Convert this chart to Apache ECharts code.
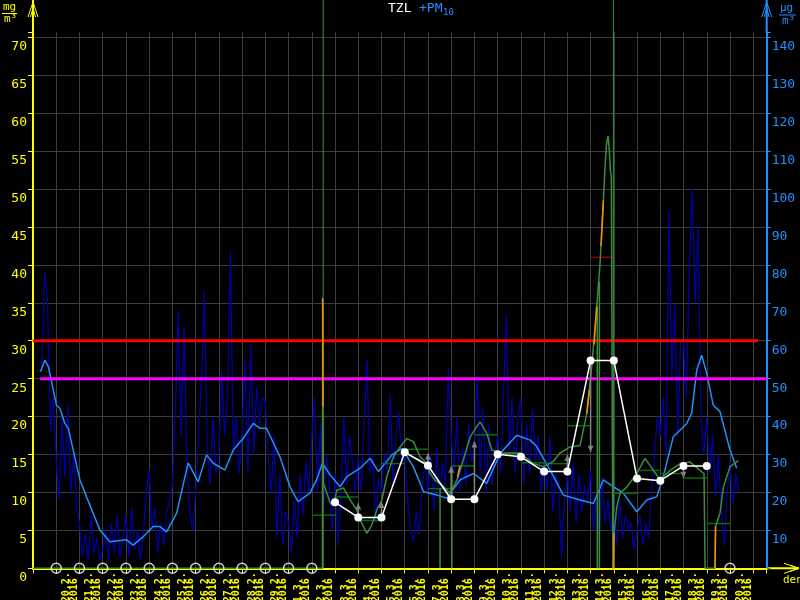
<!DOCTYPE html>
<html><head><meta charset="utf-8">
<script src="https://cdn.jsdelivr.net/npm/echarts@6/dist/echarts.min.js"></script>
<style>html,body{margin:0;padding:0;background:#000;}#c{width:800px;height:600px;}</style>
</head><body><div id="c"></div>
<script>
// ---------- data ----------
const dayLabels = ['20.2.','21.2.','22.2.','23.2.','24.2.','25.2.','26.2.','27.2.','28.2.','29.2.',
  '1.3.','2.3.','3.3.','4.3.','5.3.','6.3.','7.3.','8.3.','9.3.','10.3.','11.3.','12.3.','13.3.',
  '14.3.','15.3.','16.3.','17.3.','18.3.','19.3.','20.3.'];
const yearLabel = '2016';
const leftTicks = [0,5,10,15,20,25,30,35,40,45,50,55,60,65,70];
const rightTicks = [10,20,30,40,50,60,70,80,90,100,110,120,130,140];

// PM10 3-hourly values (µg/m3), first sample at day -0.625, step 1/8 day
const pmHourStart = -0.625;
const pmHourStep = 0.125;
const pmHourly = [52,78,70,36,45,
 28,18,40,24,43,20,30,16,   12,3,9,2,14,4,8,2,      5,10,2,12,4,14,3,8,     14,3,16,5,10,2,9,20,
 26,10,16,4,12,6,14,18,     22,40,68,35,64,28,15,10, 20,35,50,73,30,22,40,25, 30,52,35,45,84,30,40,25,
 35,55,25,59,30,48,38,45,   44,30,20,35,8,25,6,15,   12,4,18,8,25,14,28,20,   35,45,20,38,15,30,22,10,
 25,6,18,40,22,35,28,20,    30,20,38,55,25,30,12,24, 20,30,25,46,22,35,41,28, 30,18,10,7,15,9,22,28,
 20,30,15,32,18,28,22,53,   35,25,40,20,32,22,38,28, 30,51,25,42,20,38,22,30, 35,25,45,67,30,45,25,40,
 45,22,38,25,42,28,35,20,   30,20,35,15,25,22,3,18,  25,15,28,12,25,15,22,18, 26,10,20,8,24,12,18,10,
 15,6,18,8,14,10,12,5,      10,14,6,12,8,20,30,40,   35,45,30,94,50,70,35,60, 60,45,80,100,70,90,40,30,
 40,25,35,19,30,15,6,20,    28,17,25,20];

// PM10 moving average (µg/m3)
const pmAvgDays = [-0.68,-0.49,-0.34,0.01,0.16,0.37,0.52,1.02,1.30,1.88,2.31,3.03,3.31,3.74,4.17,4.46,4.75,
 5.18,5.68,6.11,6.47,6.76,7.26,7.62,8.05,8.48,8.77,9.05,9.63,10.06,10.41,10.92,11.20,11.46,11.79,12.22,
 12.51,13.08,13.51,13.87,14.45,14.88,15.37,15.81,16.38,16.81,17.38,17.96,18.53,19.11,19.82,20.40,20.68,
 21.26,21.83,22.55,23.12,23.55,23.98,24.41,24.99,25.42,25.85,26.13,26.56,27.14,27.35,27.57,27.78,28.00,
 28.28,28.57,29.00,29.29];
const pmAvgValues = [51.8,54.9,53.2,43.0,42.2,38.2,36.9,23.3,18.9,10.1,7.0,7.5,6.1,8.3,11.0,11.0,9.6,
 14.5,27.8,22.8,29.9,27.7,25.9,31.2,34.3,38.2,36.9,36.9,29.4,21.5,17.6,19.8,23.3,27.7,24.6,21.5,
 24.2,26.4,29.0,25.5,29.9,31.6,26.8,20.2,19.3,18.5,23.3,25.0,22.4,30.3,35.1,33.8,32.1,
 25.9,19.3,18.0,17.1,23.3,21.5,19.8,14.9,18.0,18.9,24.2,34.7,38.2,40.9,52.3,56.2,51.4,
 43.0,41.3,31.2,26.4];

// PM10 daily means (µg/m3)
const pmDailyDays = [12,13,14,15,16,17,18,19,20,21,22,23,24,25,26,27,28];
const pmDailyValues = [17.4,13.4,13.4,30.6,27.1,18.2,18.2,30.1,29.4,25.5,25.5,54.8,54.8,23.7,23.1,27.0,27.0];
const pmMissingDays = [0,1,2,3,4,5,6,7,8,9,10,11,29];
// trend arrows: day, from, to (µg/m3)
const pmArrows = [[13,13.4,17.1],[14,13.4,17.5],[16,27.1,30.3],[17,18.2,26.8],[18,18.2,33.4],
 [22,25.5,29.9],[23,54.8,30.7],[27,27.0,23.9]];

// TZL (mg/m3)
const tzlDays = [-1,11.459,11.467,11.484,11.502,11.79,11.932,12.078,12.362,12.651,12.939,13.081,13.369,
 13.584,13.799,14.015,14.23,14.514,14.802,15.09,15.374,15.663,15.951,16.093,16.308,16.665,16.954,
 17.242,17.526,17.814,18.102,18.244,18.533,18.748,19.105,19.535,19.966,20.254,20.538,20.968,21.399,
 21.687,22.117,22.547,22.835,23.05,23.265,23.408,23.55,23.623,23.688,23.752,23.808,23.851,23.894,
 23.959,23.989,24.01,24.127,24.269,24.557,24.987,25.344,25.701,25.99,26.42,26.85,27.281,27.711,
 27.883,27.926,28.356,28.378,28.571,28.714,29.002,29.359];
const tzlValues = [0,0,35.6,21.3,11.2,8.6,8.3,10.3,10.6,9.0,7.7,6.4,4.6,
 5.7,7.7,9.0,12.1,14.7,16.0,17.1,16.7,14.7,13.8,12.5,11.6,10.8,9.9,
 11.6,14.3,17.3,18.7,19.3,17.8,15.6,15.2,15.2,15.2,14.5,13.8,13.4,14.1,
 15.2,16.0,16.2,20.4,26.6,34.5,40.2,48.5,53.0,56.0,57.0,55.0,52.5,51.6,
 0,0,4.6,8.1,9.9,10.7,12.5,14.5,12.9,11.7,12.9,13.8,14.0,12.9,
 12.5,0,0,5.5,7.3,10.7,13.4,14.2];
const tzlDailyDays = [11,12,13,14,15,16,17,18,19,20,21,22,23,24,25,26,27,28];
const tzlDailyValues = [7.0,9.4,6.3,13.8,15.7,10.5,13.5,17.6,15.1,13.9,13.8,18.8,41.0,9.9,12.9,12.5,11.9,5.9];
const tzlGapLines = [[16.52,10.5],[17.03,13.4],[23.29,34.5],[23.38,37.8]];
const tzlOrange = [[[11.467,35.6],[11.484,21.3]],[[17.27,12.0],[17.38,13.5]],[[22.835,20.4],[22.95,23.5]],
 [[23.15,29.5],[23.265,34.5]],[[23.45,42.5],[23.55,48.5]],[[23.989,0],[24.01,4.6]],[[28.356,0],[28.378,5.5]]];
const markerDays = [11.49, 23.98];
const limitRed = 30;      // mg/m3 (left axis)
const limitMagenta = 25;  // mg/m3 (left axis)

// ---------- chart ----------
const YEL = '#ffff00', BLUE = '#1e90ff', GRID = '#3c3c3c';
const FONT = 'DejaVu Sans Mono';
const chart = echarts.init(document.getElementById('c'), null, {renderer: 'canvas'});

const hourlyData = pmHourly.map((v, i) => [pmHourStart + i * pmHourStep, v]);
const avgData = pmAvgDays.map((d, i) => [d, pmAvgValues[i]]);
const dailyData = pmDailyDays.map((d, i) => [d, pmDailyValues[i]]);
const tzlData = tzlDays.map((d, i) => [d, tzlValues[i]]);
const tzlDailyData = tzlDailyDays.map((d, i) => ({value: [d, tzlDailyValues[i]],
  itemStyle: {color: tzlDailyValues[i] > 30 ? '#8b0000' : '#0a6a0a'}}));

const series = [
  {type: 'line', name: 'pmHourly', xAxisIndex: 0, yAxisIndex: 1, data: hourlyData, showSymbol: false,
   lineStyle: {color: '#0000a8', width: 1.2}, z: 1, silent: true},
  {type: 'line', name: 'pmAvg', xAxisIndex: 0, yAxisIndex: 1, data: avgData, showSymbol: false,
   lineStyle: {color: BLUE, width: 1.5}, z: 2, silent: true},
  {type: 'line', xAxisIndex: 0, yAxisIndex: 0, data: [[-1, limitRed], [30.2, limitRed]], showSymbol: false,
   lineStyle: {color: '#ff0000', width: 3}, z: 3, silent: true},
  {type: 'line', xAxisIndex: 0, yAxisIndex: 0, data: [[-0.69, limitMagenta], [30.58, limitMagenta]], showSymbol: false,
   lineStyle: {color: '#ff00ff', width: 3}, z: 3, silent: true},
  {type: 'custom', xAxisIndex: 0, yAxisIndex: 0, data: tzlDailyData, z: 4, silent: true,
   renderItem: (p, api) => {
     const a = api.coord([api.value(0), api.value(1)]);
     const b = api.coord([api.value(0) + 1, api.value(1)]);
     return {type: 'line', shape: {x1: a[0], y1: a[1], x2: b[0], y2: b[1]},
       style: {stroke: api.visual('color'), lineWidth: 1.5}};
   }},
  {type: 'custom', xAxisIndex: 0, yAxisIndex: 0, data: tzlGapLines, z: 4, silent: true,
   renderItem: (p, api) => {
     const a = api.coord([api.value(0), 0]);
     const b = api.coord([api.value(0), api.value(1)]);
     return {type: 'line', shape: {x1: a[0], y1: a[1], x2: b[0], y2: b[1]},
       style: {stroke: '#3c8c3c', lineWidth: 1.5}};
   }},
  {type: 'custom', xAxisIndex: 0, yAxisIndex: 0, data: markerDays.map(d => [d, 0]), z: 4, silent: true,
   renderItem: (p, api) => {
     const a = api.coord([api.value(0), 0]);
     return {type: 'line', shape: {x1: a[0], y1: p.coordSys.y + p.coordSys.height, x2: a[0], y2: 0},
       style: {stroke: '#3a9a3a', lineWidth: 1}};
   }},
  {type: 'line', name: 'tzl', xAxisIndex: 0, yAxisIndex: 0, data: tzlData, showSymbol: false,
   lineStyle: {color: '#3c8c3c', width: 1.5}, z: 5, silent: true},
];
tzlOrange.forEach(seg => series.push({type: 'line', xAxisIndex: 0, yAxisIndex: 0, data: seg, showSymbol: false,
  lineStyle: {color: '#ff8c00', width: 1.5}, z: 6, silent: true}));
series.push(
  {type: 'custom', xAxisIndex: 0, yAxisIndex: 1, data: pmArrows, z: 7, silent: true,
   renderItem: (p, api) => {
     const a = api.coord([api.value(0), api.value(1)]);
     const b = api.coord([api.value(0), api.value(2)]);
     const dir = b[1] < a[1] ? 1 : -1;
     return {type: 'group', children: [
       {type: 'line', shape: {x1: a[0], y1: a[1], x2: b[0], y2: b[1]}, style: {stroke: '#808080', lineWidth: 1.5}},
       {type: 'polygon', shape: {points: [[b[0], b[1]], [b[0] - 3, b[1] + dir * 6], [b[0] + 3, b[1] + dir * 6]]},
        style: {fill: '#808080'}}
     ]};
   }},
  {type: 'line', name: 'pmDaily', xAxisIndex: 0, yAxisIndex: 1, data: dailyData, symbol: 'circle', symbolSize: 8,
   showSymbol: true, itemStyle: {color: '#ffffff'}, lineStyle: {color: '#ffffff', width: 1.5}, z: 8, silent: true},
  {type: 'scatter', xAxisIndex: 0, yAxisIndex: 0, data: pmMissingDays.map(d => [d, 0]), symbol: 'circle',
   symbolSize: 10, itemStyle: {color: 'rgba(0,0,0,0)', borderColor: '#ffffff', borderWidth: 1.5}, z: 9, silent: true}
);

const PX_DAY = (800 - 33 - 33.3) / 31.58;
const option = {
  backgroundColor: '#000000',
  animation: false,
  grid: [
    {left: 33, right: 33.3, top: 32, bottom: 31.7, containLabel: false, outerBoundsMode: 'none'},
    {left: 33 + 0.6 * PX_DAY, right: 33.3 - 0.6 * PX_DAY, top: 32, bottom: 31.7, containLabel: false, outerBoundsMode: 'none'}
  ],
  xAxis: [
    {type: 'value', gridIndex: 0, min: -1, max: 30.58, interval: 1,
     axisLine: {show: true, onZero: false, lineStyle: {color: YEL, width: 2}},
     axisTick: {show: true, inside: false, length: 5, lineStyle: {color: YEL, width: 1}},
     axisLabel: {show: false},
     splitLine: {show: true, showMinLine: false, showMaxLine: false, lineStyle: {color: GRID, width: 1}}},
    {type: 'value', gridIndex: 1, min: -1, max: 30.58, interval: 1, position: 'bottom', offset: 0,
     axisLine: {show: false}, axisTick: {show: false}, splitLine: {show: false},
     axisLabel: {show: true, rotate: 90, align: 'left', verticalAlign: 'middle', margin: 34,
       color: YEL, fontFamily: FONT, fontSize: 10, fontWeight: 'bold', lineHeight: 8,
       formatter: v => (v >= 0 && v < dayLabels.length && Math.abs(v - Math.round(v)) < 1e-6) ? dayLabels[Math.round(v)] + '\n' + yearLabel : ''}}
  ],
  yAxis: [
    {type: 'value', gridIndex: 0, position: 'left', min: 0, max: 70.7, interval: 5,
     axisLine: {show: true, onZero: false, lineStyle: {color: YEL, width: 2}},
     axisTick: {show: true, inside: false, length: 5, lineStyle: {color: YEL}},
     axisLabel: {color: YEL, fontFamily: FONT, fontSize: 13, margin: 6, verticalAlign: 'top', padding: [3, 0, 0, 0],
       formatter: v => leftTicks.indexOf(Math.round(v * 1000) / 1000) >= 0 ? String(v) : ''},
     splitLine: {show: true, showMinLine: false, showMaxLine: false, lineStyle: {color: GRID, width: 1}}},
    {type: 'value', gridIndex: 0, position: 'right', min: 0, max: 141.4, interval: 10,
     axisLine: {show: true, onZero: false, lineStyle: {color: BLUE, width: 2}},
     axisTick: {show: true, inside: false, length: 4, lineStyle: {color: BLUE}},
     axisLabel: {color: BLUE, fontFamily: FONT, fontSize: 13, margin: 5, verticalAlign: 'top', padding: [3, 0, 0, 0],
       formatter: v => rightTicks.indexOf(Math.round(v * 1000) / 1000) >= 0 ? String(v) : ''},
     splitLine: {show: false}},
    {type: 'value', gridIndex: 1, min: 0, max: 70.7, show: false}
  ],
  graphic: [
    {type: 'line', shape: {x1: 33, y1: 0, x2: 33, y2: 33}, style: {stroke: YEL, lineWidth: 2}, silent: true},
    {type: 'polyline', shape: {points: [[28, 17], [33, 2], [38, 17]]}, style: {stroke: YEL, lineWidth: 1, fill: null}},
    {type: 'polyline', shape: {points: [[30.5, 17], [33, 8], [35.5, 17]]}, style: {stroke: YEL, lineWidth: 1, fill: null}},
    {type: 'line', shape: {x1: 766.7, y1: 0, x2: 766.7, y2: 33}, style: {stroke: BLUE, lineWidth: 2}, silent: true},
    {type: 'polyline', shape: {points: [[761.7, 17], [766.7, 2], [771.7, 17]]}, style: {stroke: BLUE, lineWidth: 1, fill: null}},
    {type: 'polyline', shape: {points: [[764.2, 17], [766.7, 8], [769.2, 17]]}, style: {stroke: BLUE, lineWidth: 1, fill: null}},
    {type: 'line', shape: {x1: 766, y1: 568.3, x2: 799, y2: 568.3}, style: {stroke: YEL, lineWidth: 2}},
    {type: 'polyline', shape: {points: [[784, 563.3], [799, 568.3], [784, 573.3]]}, style: {stroke: YEL, lineWidth: 1, fill: null}},
    {type: 'polyline', shape: {points: [[790, 565.3], [799, 568.3], [790, 571.3]]}, style: {stroke: YEL, lineWidth: 1, fill: null}},
    {type: 'text', x: 783, y: 575, style: {text: 'den', fill: YEL, font: '11px ' + FONT}},
    {type: 'text', x: 3, y: 2, style: {text: 'mg', fill: YEL, font: '11px ' + FONT}},
    {type: 'line', shape: {x1: 2, y1: 13.5, x2: 17, y2: 13.5}, style: {stroke: YEL, lineWidth: 1}},
    {type: 'text', x: 4, y: 14, style: {text: 'm³', fill: YEL, font: '11px ' + FONT}},
    {type: 'text', x: 780, y: 3, style: {text: 'µg', fill: BLUE, font: '11px ' + FONT}},
    {type: 'line', shape: {x1: 779, y1: 15, x2: 796, y2: 15}, style: {stroke: BLUE, lineWidth: 1}},
    {type: 'text', x: 782, y: 15.5, style: {text: 'm³', fill: BLUE, font: '11px ' + FONT}},
    {type: 'text', x: 388, y: 2, style: {text: 'TZL', fill: '#ffffff', font: '13px ' + FONT}},
    {type: 'text', x: 419, y: 2, style: {text: '+PM', fill: BLUE, font: '13px ' + FONT}},
    {type: 'text', x: 443, y: 8, style: {text: '10', fill: BLUE, font: '9px ' + FONT}}
  ],
  series: series
};
chart.setOption(option);
</script>
</body></html>
